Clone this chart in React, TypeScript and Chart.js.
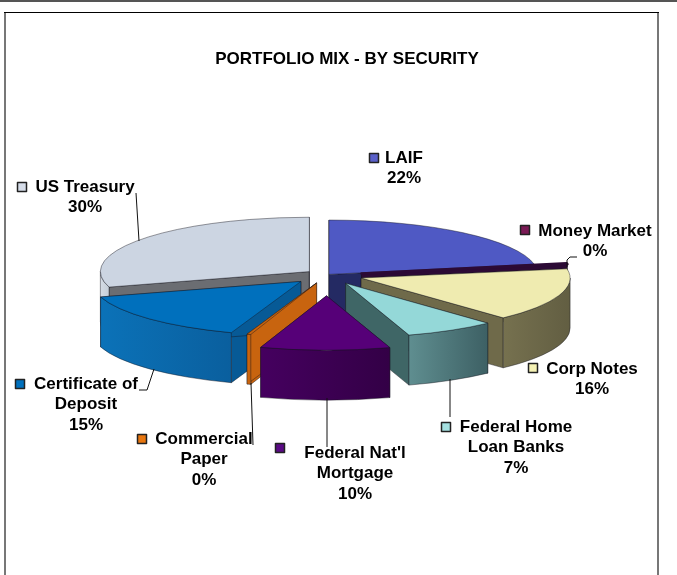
import React, { useEffect, useRef } from "react";
import { Chart, registerables } from "chart.js";

Chart.register(...registerables);

const chartTitle = "PORTFOLIO MIX - BY SECURITY";
const categories = ["LAIF", "Money Market", "Corp Notes", "Federal Home\nLoan Banks", "Federal Nat'l\nMortgage", "Commercial\nPaper", "Certificate of\nDeposit", "US Treasury"];
const shares = [22, 0.3, 15.8, 7, 10, 0.3, 15, 29.6];
const explode = [3, 35, 36, 37, 80, 32, 36, 22];
const topColors = ["#4f59c4", "#2c0a35", "#efebb0", "#94d8d8", "#560078", "#c8640f", "#0070bd", "#ccd5e2"];
const wallLight = ["#2b3170", "#2c0a35", "#76714f", "#5f8e90", "#45005f", "#d0690f", "#0b72b8", "#d5dce5"];
const wallDark = ["#23285e", "#2c0a35", "#625e42", "#3d6064", "#330046", "#c05e0c", "#0a5f9e", "#c5ced8"];
const cutColors = ["#242a63", "#2c0a35", "#6f6a4a", "#3f6666", "#3a0052", "#c8640f", "#075a96", "#6b6d72"];
const keyColors = ["#5a60c8", "#7a1a55", "#f5f2b5", "#a5e0e0", "#5a0a85", "#e8760f", "#0070bd", "#d5dce8"];
const paintOrder = [7, 0, 1, 2, 6, 5, 3, 4];

const labelLayout = [
  { cx: 404, y: 158, kx: 374, ky: 158 },
  { cx: 595, y: 231, kx: 525, ky: 230 },
  { cx: 592, y: 369, kx: 533, ky: 368 },
  { cx: 516, y: 427, kx: 446, ky: 427 },
  { cx: 355, y: 453, kx: 280, ky: 448 },
  { cx: 204, y: 439, kx: 142, ky: 439 },
  { cx: 86, y: 384, kx: 20, ky: 384 },
  { cx: 85, y: 187, kx: 22, ky: 187 },
];
const leaders = [
  [[136, 193], [139, 241]],
  [[154, 369], [147, 390], [139, 390]],
  [[251, 383], [253, 445]],
  [[327, 398], [327, 447]],
  [[450, 379], [450, 417]],
  [[567, 267], [567, 260], [570, 257], [577, 257]],
];

const TILT = 0.26;
const DEPTH = 50;
const FONT = "bold 17px 'Liberation Sans', Arial, sans-serif";

const pie3d = {
  id: "pie3d",
  beforeDraw(chart: any) {
    const ctx = chart.ctx;
    ctx.save();
    ctx.fillStyle = "#ffffff";
    ctx.fillRect(0, 0, 677, 575);
    ctx.fillStyle = "#555555";
    ctx.fillRect(0, 0, 677, 2);
    ctx.fillStyle = "#777777";
    ctx.fillRect(4, 12, 2, 563);
    ctx.fillRect(657, 12, 2, 563);
    ctx.fillStyle = "#000000";
    ctx.fillRect(4, 12, 655, 1);
    ctx.restore();
  },
  beforeDatasetDraw() {
    return false;
  },
  afterDatasetsDraw(chart: any) {
    const ctx = chart.ctx;
    const arcs = chart.getDatasetMeta(0).data;
    ctx.save();
    paintOrder.forEach((i) => {
      const arc = arcs[i];
      const { x, y, startAngle, endAngle, outerRadius } = arc.getProps(["x", "y", "startAngle", "endAngle", "outerRadius"], true);
      const mid = (startAngle + endAngle) / 2;
      const ax = x + explode[i] * Math.cos(mid);
      const ay = y + explode[i] * TILT * Math.sin(mid);
      const rx = outerRadius;
      const ry = outerRadius * TILT;
      const edge = "rgba(20,20,30,0.55)";
      ctx.lineWidth = 0.8;
      ctx.lineJoin = "round";
      [startAngle, endAngle].forEach((a: number) => {
        const ex = ax + rx * Math.cos(a);
        const ey = ay + ry * Math.sin(a);
        ctx.beginPath();
        ctx.moveTo(ax, ay);
        ctx.lineTo(ex, ey);
        ctx.lineTo(ex, ey + DEPTH);
        ctx.lineTo(ax, ay + DEPTH);
        ctx.closePath();
        ctx.fillStyle = cutColors[i];
        ctx.fill();
        ctx.strokeStyle = edge;
        ctx.stroke();
      });
      const a0 = Math.max(startAngle, 0);
      const a1 = Math.min(endAngle, Math.PI);
      if (a1 > a0) {
        const gx0 = ax + rx * Math.cos(a1);
        const gx1 = ax + rx * Math.cos(a0);
        const g = ctx.createLinearGradient(gx0, 0, gx1, 0);
        g.addColorStop(0, wallLight[i]);
        g.addColorStop(1, wallDark[i]);
        ctx.beginPath();
        ctx.ellipse(ax, ay, rx, ry, 0, a0, a1);
        ctx.ellipse(ax, ay + DEPTH, rx, ry, 0, a1, a0, true);
        ctx.closePath();
        ctx.fillStyle = g;
        ctx.fill();
        ctx.strokeStyle = edge;
        ctx.stroke();
      }
      ctx.beginPath();
      ctx.moveTo(ax, ay);
      ctx.ellipse(ax, ay, rx, ry, 0, startAngle, endAngle);
      ctx.closePath();
      ctx.fillStyle = arc.options.backgroundColor;
      ctx.fill();
      ctx.strokeStyle = i === 1 ? "#2c0a35" : edge;
      ctx.lineWidth = i === 1 ? 2.5 : 0.8;
      ctx.stroke();
    });

    ctx.strokeStyle = "#111111";
    ctx.lineWidth = 1;
    leaders.forEach((pts) => {
      ctx.beginPath();
      pts.forEach((p, n) => (n ? ctx.lineTo(p[0], p[1]) : ctx.moveTo(p[0], p[1])));
      ctx.stroke();
    });

    ctx.font = FONT;
    ctx.textAlign = "center";
    ctx.textBaseline = "middle";
    ctx.fillStyle = "#000000";
    ctx.fillText(chartTitle, 347, 59);
    categories.forEach((name, i) => {
      const l = labelLayout[i];
      ctx.fillStyle = keyColors[i];
      ctx.strokeStyle = "#222222";
      ctx.lineWidth = 1.5;
      ctx.fillRect(l.kx - 4.5, l.ky - 4.5, 9, 9);
      ctx.strokeRect(l.kx - 4.5, l.ky - 4.5, 9, 9);
      ctx.fillStyle = "#000000";
      const lines = [...name.split("\n"), `${Math.round(shares[i])}%`];
      lines.forEach((t, n) => ctx.fillText(t, l.cx, l.y + n * 20.6));
    });
    ctx.restore();
  },
};

export default function App() {
  const ref = useRef<HTMLCanvasElement>(null);
  useEffect(() => {
    const chart = new Chart(ref.current as HTMLCanvasElement, {
      type: "pie",
      data: {
        labels: categories.map((c) => c.replace("\n", " ")),
        datasets: [{ data: shares, backgroundColor: topColors, borderWidth: 0 }],
      },
      options: {
        responsive: false,
        animation: false,
        layout: { padding: { top: 65, left: 118, right: 141, bottom: 90 } },
        plugins: {
          legend: { display: false },
          tooltip: { enabled: false },
          title: { display: false },
        },
      },
      plugins: [pie3d],
    } as any);
    return () => chart.destroy();
  }, []);
  return (
    <canvas
      ref={ref}
      width={677}
      height={575}
      style={{ position: "absolute", left: 0, top: 0, display: "block", width: 677, height: 575 }}
    />
  );
}
